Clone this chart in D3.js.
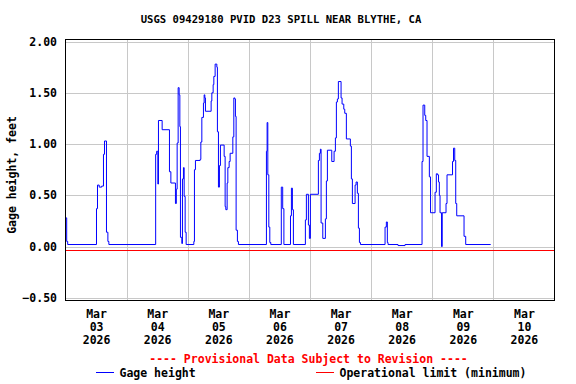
<!DOCTYPE html>
<html>
<head>
<meta charset="utf-8">
<script src="https://cdn.jsdelivr.net/npm/d3@7"></script>
<style>
  body { margin: 0; background: #fff; }
  text { font-family: "DejaVu Sans Mono", monospace; font-weight: bold; }
</style>
</head>
<body>
<div id="chart"></div>
<script>
const title = 'USGS 09429180 PVID D23 SPILL NEAR BLYTHE, CA';
const yLabel = 'Gage height, feet';
const startDay = Date.UTC(2026, 2, 3);
const dayLabels = ['03', '04', '05', '06', '07', '08', '09', '10'];
const yTicks = [-0.5, 0, 0.5, 1.0, 1.5, 2.0];
const operationalLimit = -0.03;

// hours after Mar 03 00:00, and gage height (ft) held until the next reading
const gageHours = [
  0, 0.47, 0.86, 12.17, 12.56, 13.23, 14.2, 14.91, 15.31, 16.09, 16.64, 17.03,
  35.4, 35.79, 36.26, 36.5, 37.95, 40.82, 41.37, 43.17, 43.52, 43.84, 44.23, 44.62, 44.9,
  45.13, 45.68, 45.92, 46.31, 46.59, 46.98, 47.37,
  50.39, 50.63, 51.02, 52.87, 53.14, 53.53, 54.16, 54.44, 54.71, 54.95, 57.18, 57.46,
  57.97, 58.24, 58.75, 59.42, 59.65, 60.05, 60.44, 60.83, 62.29, 62.68, 62.95, 63.46,
  63.74, 64.25, 64.64, 65.7, 66.09, 66.48, 66.72, 66.99, 67.5, 67.9,
  78.89, 79.16, 79.44, 79.83, 80.22, 80.61, 84.73, 85.28, 85.75, 88.34, 88.7, 89.09, 89.48,
  94.19, 94.58, 95.37, 95.76, 96.15, 99.29, 99.69, 100.08, 100.35, 101.02, 102.04, 102.43,
  102.83, 104.55, 105.46, 105.97, 106.36, 106.75, 107.14, 108.2, 108.59, 109.26, 109.65,
  110.28, 111.85, 112.25, 112.64, 113.7, 114.1, 114.6, 115.0, 115.4, 115.8,
  125.47, 125.98, 126.37, 126.65, 130.57, 133.32,
  139.99, 140.38, 141.05, 141.44, 141.95, 142.86, 143.33, 145.1, 145.6, 146.08, 146.47,
  146.78, 147.06, 147.65, 147.92, 149.41, 149.8, 151.96, 152.35, 152.83, 153.22, 153.61,
  156.48, 157.14, 166.95
];
const gageFeet = [
  0.28, 0.05, 0.02, 0.37, 0.60, 0.58, 0.59, 0.90, 1.03, 0.14, 0.05, 0.02,
  0.90, 0.93, 0.61, 1.23, 1.14, 0.73, 0.62, 0.42, 0.56, 1.01, 1.55, 1.48, 1.17,
  0.09, 0.03, 0.66, 0.77, 0.49, 0.14, 0.02,
  0.05, 0.75, 0.84, 0.85, 1.02, 1.26, 1.40, 1.48, 1.45, 1.32, 1.42, 1.50,
  1.58, 1.66, 1.78, 1.75, 1.12, 0.58, 0.79, 0.99, 0.88, 0.39, 0.36, 0.62,
  0.77, 0.83, 0.91, 1.07, 1.45, 1.44, 1.27, 0.16, 0.05, 0.02,
  0.93, 1.21, 0.70, 0.19, 0.04, 0.02, 0.58, 0.37, 0.02, 0.30, 0.57, 0.36, 0.02,
  0.26, 0.51, 0.21, 0.08, 0.51, 0.84, 0.91, 0.95, 0.23, 0.08, 0.27, 0.64,
  0.94, 0.83, 0.93, 1.06, 1.41, 1.44, 1.61, 1.45, 1.39, 1.34, 1.30,
  1.05, 0.98, 0.66, 0.42, 0.60, 0.63, 0.52, 0.18, 0.04, 0.02,
  0.19, 0.24, 0.04, 0.02, 0.01, 0.02,
  0.83, 1.38, 1.28, 1.23, 0.88, 0.68, 0.33, 0.53, 0.71, 0.70, 0.63,
  0.50, 0.33, 0.00, 0.33, 0.42, 0.70, 0.83, 0.96, 0.84, 0.42, 0.30,
  0.10, 0.02, 0.02
];

const width = 576, height = 384;
const plot = { left: 65.5, right: 554.5, top: 39.5, bottom: 300.5 };
const hour = 3600 * 1000;

const data = gageHours.map((h, i) => ({ t: new Date(startDay + h * hour), v: gageFeet[i] }));

const svg = d3.select('#chart').append('svg')
  .attr('width', width)
  .attr('height', height);

const x = d3.scaleTime()
  .domain([new Date(startDay), new Date(startDay + 8 * 24 * hour)])
  .range([plot.left, plot.right]);

const y = d3.scaleLinear()
  .domain([-0.526, 2.02])
  .range([plot.bottom, plot.top]);

// Grid
const midnights = d3.range(1, 8).map(d => new Date(startDay + d * 24 * hour));
svg.append('g')
  .selectAll('line')
  .data(midnights)
  .enter()
  .append('line')
  .attr('x1', d => Math.round(x(d)) + 0.5)
  .attr('x2', d => Math.round(x(d)) + 0.5)
  .attr('y1', plot.top)
  .attr('y2', plot.bottom)
  .style('stroke', '#c8c8c8');

svg.append('g')
  .selectAll('line')
  .data(yTicks)
  .enter()
  .append('line')
  .attr('x1', plot.left)
  .attr('x2', plot.right)
  .attr('y1', d => Math.round(y(d)) + 0.5)
  .attr('y2', d => Math.round(y(d)) + 0.5)
  .style('stroke', '#c8c8c8');

// Operational limit
svg.append('line')
  .attr('x1', plot.left)
  .attr('x2', plot.right)
  .attr('y1', Math.round(y(operationalLimit)) + 0.5)
  .attr('y2', Math.round(y(operationalLimit)) + 0.5)
  .style('stroke', '#ff0000');

// Gage height
const line = d3.line()
  .x(d => x(d.t))
  .y(d => y(d.v))
  .curve(d3.curveStepAfter);

svg.append('path')
  .datum(data)
  .attr('d', line)
  .style('fill', 'none')
  .style('stroke', '#0000ff')
  .style('stroke-width', 1);

// Frame
svg.append('rect')
  .attr('x', plot.left)
  .attr('y', plot.top)
  .attr('width', plot.right - plot.left)
  .attr('height', plot.bottom - plot.top)
  .style('fill', 'none')
  .style('stroke', '#000');

// Y axis labels
svg.append('g')
  .selectAll('text')
  .data(yTicks)
  .enter()
  .append('text')
  .attr('x', 57)
  .attr('y', d => y(d))
  .attr('dy', '0.36em')
  .style('text-anchor', 'end')
  .style('font-size', '11.5px')
  .text(d => d3.format('.2f')(d));

// X axis labels (noon of each day)
const xAxis = svg.append('g')
  .attr('transform', `translate(0,${plot.bottom})`)
  .call(d3.axisBottom(x)
    .tickValues(dayLabels.map((d, i) => new Date(startDay + (i + 0.5) * 24 * hour)))
    .tickSize(0)
    .tickFormat(''));
xAxis.select('.domain').remove();
xAxis.selectAll('.tick text').remove();
xAxis.selectAll('.tick').each(function (d, i) {
  const t = d3.select(this).append('text')
    .style('text-anchor', 'middle')
    .style('font-size', '11.5px')
    .style('fill', '#000');
  ['Mar', dayLabels[i], '2026'].forEach((s, k) => {
    t.append('tspan').attr('x', 0).attr('y', 17.5 + k * 13).text(s);
  });
});

// Title
svg.append('text')
  .attr('x', 281)
  .attr('y', 23)
  .style('text-anchor', 'middle')
  .style('font-size', '10.6px')
  .text(title);

// Y label
svg.append('text')
  .attr('transform', 'rotate(-90)')
  .attr('x', -175)
  .attr('y', 15.5)
  .style('text-anchor', 'middle')
  .style('font-size', '11.5px')
  .text(yLabel);

// Provisional note
svg.append('text')
  .attr('x', 308.5)
  .attr('y', 363)
  .style('text-anchor', 'middle')
  .style('font-size', '11.5px')
  .style('fill', '#ff0000')
  .text('---- Provisional Data Subject to Revision ----');

// Legend
const legend = [
  { label: 'Gage height', color: '#0000ff', x: 96 },
  { label: 'Operational limit (minimum)', color: '#ff0000', x: 316 }
];
const lg = svg.append('g').selectAll('g').data(legend).enter().append('g');
lg.append('line')
  .attr('x1', d => d.x)
  .attr('x2', d => d.x + 18)
  .attr('y1', 372.5)
  .attr('y2', 372.5)
  .style('stroke', d => d.color);
lg.append('text')
  .attr('x', d => d.x + 23.5)
  .attr('y', 377)
  .style('font-size', '11.5px')
  .text(d => d.label);
</script>
</body>
</html>
